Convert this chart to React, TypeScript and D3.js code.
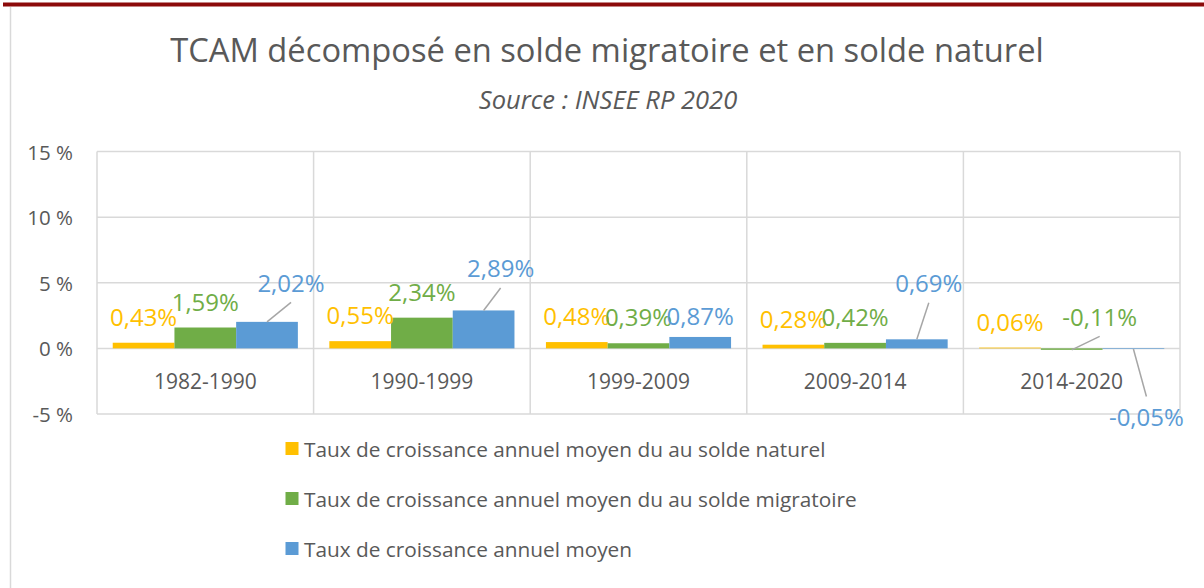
import React, { useRef, useEffect } from "react";
import { select, scaleBand, scaleLinear } from "d3";

const periods = ["1982-1990", "1990-1999", "1999-2009", "2009-2014", "2014-2020"];
const soldeNaturel = [0.43, 0.55, 0.48, 0.28, 0.06];
const soldeMigratoire = [1.59, 2.34, 0.39, 0.42, -0.11];
const tcamTotal = [2.02, 2.89, 0.87, 0.69, -0.05];
const seriesNames = [
  "Taux de croissance annuel moyen du au solde naturel",
  "Taux de croissance annuel moyen du au solde migratoire",
  "Taux de croissance annuel moyen",
];
const yTicks = [-5, 0, 5, 10, 15];

// labels that were dragged by hand in the original (series index, period index, shift)
const movedLabels = [
  { s: 2, c: 0, dx: 24, dy: -13 },
  { s: 2, c: 1, dx: 17, dy: -16 },
  { s: 2, c: 2, dx: 0, dy: 5 },
  { s: 2, c: 3, dx: 12, dy: -30 },
  { s: 1, c: 4, dx: 28, dy: -60 },
  { s: 2, c: 4, dx: 13, dy: 41 },
];

const colors = ["#FFC000", "#70AD47", "#5B9BD5"];
const textCol = "#595959";
const gridCol = "#d9d9d9";
const font = "'Open Sans', sans-serif";

const fmt = (v: number) => v.toFixed(2).replace(".", ",") + "%";

export default function App() {
  const svgRef = useRef<SVGSVGElement>(null);

  useEffect(() => {
    const svg = select(svgRef.current);
    svg.selectAll("*").remove();

    const W = 1204;
    const series = [soldeNaturel, soldeMigratoire, tcamTotal];

    // frame
    svg.append("rect").attr("x", 3).attr("y", 2.5).attr("width", W - 3).attr("height", 4).attr("fill", "#8c0a0a");
    svg.append("line").attr("x1", 10.5).attr("x2", 10.5).attr("y1", 7).attr("y2", 588).attr("stroke", gridCol).attr("stroke-width", 1.5);

    svg.append("text")
      .attr("x", 607).attr("y", 62)
      .attr("text-anchor", "middle")
      .attr("font-family", font).attr("font-size", 32.7).attr("fill", textCol)
      .text("TCAM décomposé en solde migratoire et en solde naturel");
    svg.append("text")
      .attr("x", 608).attr("y", 109)
      .attr("text-anchor", "middle")
      .attr("font-family", font).attr("font-size", 25.5).attr("font-style", "italic").attr("fill", textCol)
      .text("Source : INSEE RP 2020");

    const x = scaleBand<string>().domain(periods).range([97, 1180]);
    const xs = scaleBand<number>().domain([0, 1, 2]).range([0, x.bandwidth()]).paddingOuter(0.255);
    const y = scaleLinear().domain([-5, 15]).range([414, 151.5]);

    const grid = svg.append("g");
    yTicks.forEach((t) => {
      grid.append("line")
        .attr("x1", 97).attr("x2", 1180).attr("y1", y(t)).attr("y2", y(t))
        .attr("stroke", gridCol).attr("stroke-width", 1.5);
      svg.append("text")
        .attr("x", 73).attr("y", y(t))
        .attr("text-anchor", "end").attr("dominant-baseline", "central")
        .attr("font-family", font).attr("font-size", 20.5).attr("fill", textCol)
        .text(`${t} %`);
    });
    [...periods.map((p) => x(p) as number), 1180].forEach((px) => {
      grid.append("line")
        .attr("x1", px).attr("x2", px).attr("y1", y(15)).attr("y2", y(-5))
        .attr("stroke", gridCol).attr("stroke-width", 1.5);
    });

    // bars
    series.forEach((vals, s) => {
      svg.append("g").selectAll("rect").data(vals).join("rect")
        .attr("x", (d, i) => (x(periods[i]) as number) + (xs(s) as number))
        .attr("width", xs.bandwidth())
        .attr("y", (d) => Math.min(y(d), y(0)))
        .attr("height", (d) => Math.abs(y(d) - y(0)))
        .attr("fill", colors[s]);
    });

    periods.forEach((p) => {
      svg.append("text")
        .attr("x", (x(p) as number) + x.bandwidth() / 2).attr("y", 381)
        .attr("text-anchor", "middle").attr("dominant-baseline", "central")
        .attr("font-family", font).attr("font-size", 21).attr("fill", textCol)
        .text(p);
    });

    // data labels + leader lines
    series.forEach((vals, s) => {
      vals.forEach((v, i) => {
        const cx = (x(periods[i]) as number) + (xs(s) as number) + xs.bandwidth() / 2;
        const by = y(v);
        const shift = movedLabels.find((m) => m.s === s && m.c === i) || { dx: 0, dy: 0 };
        const lx = cx + shift.dx;
        const ly = (v >= 0 ? by - 26.5 : by + 26.5) + shift.dy;
        if (Math.abs(shift.dx) > 10 || Math.abs(shift.dy) > 10) {
          svg.append("line")
            .attr("x1", cx).attr("y1", by)
            .attr("x2", lx).attr("y2", ly < by ? ly + 20 : ly - 20)
            .attr("stroke", "#a6a6a6").attr("stroke-width", 1.5);
        }
        svg.append("text")
          .attr("x", lx).attr("y", ly)
          .attr("text-anchor", "middle").attr("dominant-baseline", "central")
          .attr("font-family", font).attr("font-size", 24).attr("fill", colors[s])
          .text(fmt(v));
      });
    });

    // legend
    seriesNames.forEach((n, s) => {
      const ly = 448.5 + s * 50;
      svg.append("rect").attr("x", 285.5).attr("y", ly - 6.5).attr("width", 13).attr("height", 13).attr("fill", colors[s]);
      svg.append("text")
        .attr("x", 304).attr("y", ly)
        .attr("dominant-baseline", "central")
        .attr("font-family", font).attr("font-size", 20.8).attr("fill", textCol)
        .text(n);
    });
  }, []);

  return (
    <svg ref={svgRef} width={1204} height={588} style={{ position: "absolute", left: 0, top: 0, background: "#fff" }} />
  );
}
